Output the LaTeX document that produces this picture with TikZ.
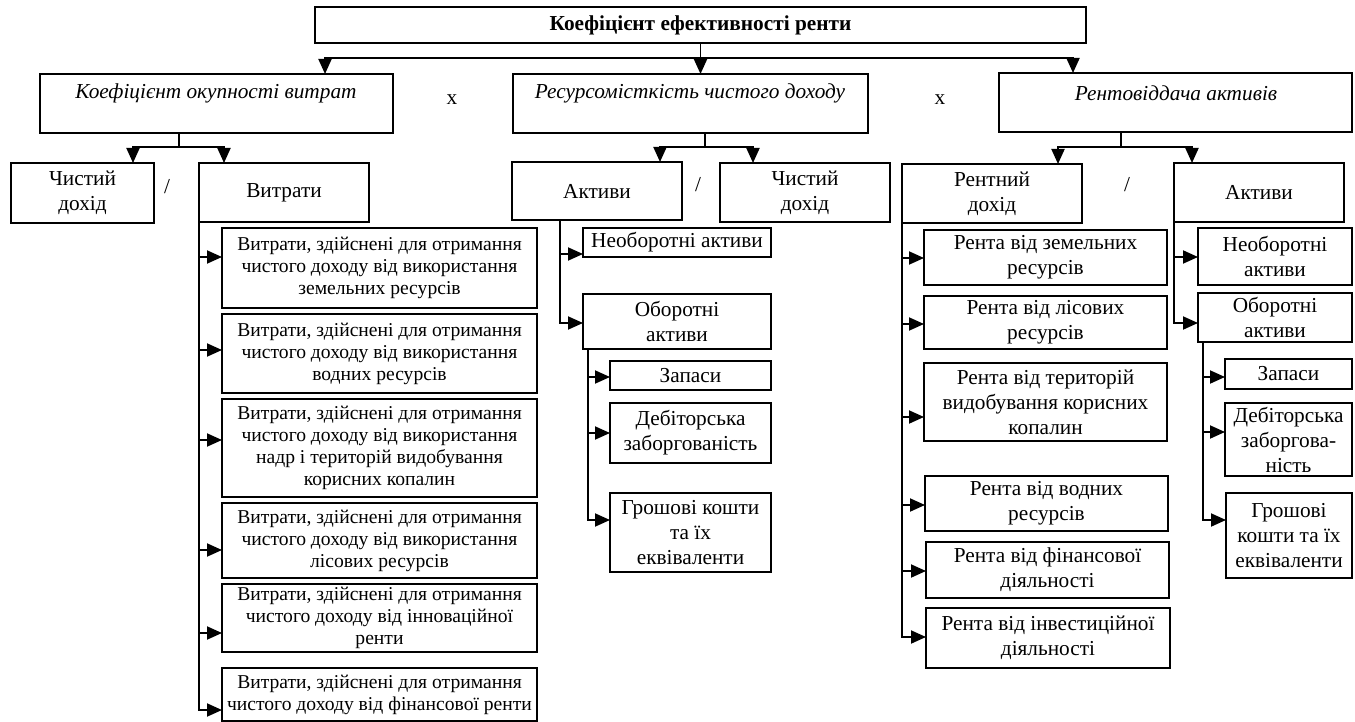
\documentclass[tikz,border=0pt]{standalone}
\usepackage{fontspec}
\setmainfont{Liberation Serif}
\usetikzlibrary{arrows.meta}
\newcommand\fs{\fontsize{21.3}{25}\selectfont}
\newcommand\fsl{\fontsize{19.6}{22}\selectfont}
\tikzset{
  box/.style={draw, line width=1.9pt, inner sep=0pt, outer sep=0pt, align=center, font=\fs},
  lbox/.style={box, font=\fsl},
  ln/.style={line width=1.9pt, line cap=rect},
  arr/.style={line width=1.9pt, -{Triangle[length=15pt,width=13pt]}},
  lbl/.style={font=\fs, inner sep=0pt},
}
\newcommand\bx[7][]{\node[box,minimum width={(#5-#3)*1pt},minimum height={(#6-#4)*1pt},#1] (#2) at ({(#3+#5)/2},{(#4+#6)/2}) {#7};}
\begin{document}
\begin{tikzpicture}[x=1pt,y=-1pt]
\useasboundingbox (0,0) rectangle (1355,722);
% title
\bx{T}{315}{7}{1086}{43}{\textbf{Коефіцієнт ефективності ренти}}
% level 2
\bx{k1}{40}{74}{393}{133}{}
\node[lbl] (k1t) at (216,93) {\textit{Коефіцієнт окупності витрат}};
\node[lbl] (x1) at (452,100) {x};
\bx{k2}{513}{74}{868}{133}{}
\node[lbl] (k2t) at (690,93) {\textit{Ресурсомісткість чистого доходу}};
\node[lbl] (x2) at (940,100) {x};
\bx{k3}{999}{73}{1352}{132}{}
\node[lbl] (k3t) at (1176,93) {\textit{Рентовіддача активів}};
% title connectors
\coordinate (tl) at (325,58);
\coordinate (tr) at (1073,58);
\draw[ln] (tl) -- (tr);
\draw[arr] (T.south) -- (T.south |- k2.north);
\draw[arr] (tl) -- (tl |- k1.north);
\draw[arr] (tr) -- (tr |- k3.north);
% level 3 left
\bx{c1}{11}{163}{154}{223}{Чистий\\дохід}
\node[lbl] (s1) at (167,187) {/};
\bx{v}{199}{163}{369}{222}{Витрати}
\coordinate (j1) at (179,147);
\coordinate (j1l) at (133,147);
\coordinate (j1r) at (224,147);
\draw[ln] (j1 |- k1.south) -- (j1);
\draw[ln] (j1l) -- (j1r);
\draw[arr] (j1l) -- (j1l |- c1.north);
\draw[arr] (j1r) -- (j1r |- v.north);
% left sub-boxes
\bx[lbox]{e1}{222}{228}{537}{308}{Витрати, здійснені для отримання\\чистого доходу від використання\\земельних ресурсів}
\bx[lbox]{e2}{222}{314}{537}{393}{Витрати, здійснені для отримання\\чистого доходу від використання\\водних ресурсів}
\bx[lbox]{e3}{222}{399}{537}{497}{Витрати, здійснені для отримання\\чистого доходу від використання\\надр і територій видобування\\корисних копалин}
\bx[lbox]{e4}{222}{503}{537}{578}{Витрати, здійснені для отримання\\чистого доходу від використання\\лісових ресурсів}
\bx[lbox]{e5}{222}{584}{537}{652}{Витрати, здійснені для отримання\\чистого доходу від інноваційної\\ренти}
\bx[lbox]{e6}{222}{668}{537}{721}{Витрати, здійснені для отримання\\чистого доходу від фінансової ренти}
\draw[ln] (v.south west) -- (v.south west |- 0,710);
\draw[arr] (v.south west |- 0,257) -- (e1.west |- 0,257);
\draw[arr] (v.south west |- 0,350) -- (e2.west |- 0,350);
\draw[arr] (v.south west |- 0,440) -- (e3.west |- 0,440);
\draw[arr] (v.south west |- 0,550) -- (e4.west |- 0,550);
\draw[arr] (v.south west |- 0,633) -- (e5.west |- 0,633);
\draw[arr] (v.south west |- 0,710) -- (e6.west |- 0,710);
% level 3 middle
\bx{a1}{512}{162}{682}{220}{Активи}
\node[lbl] (s2) at (698,185) {/};
\bx{d1}{720}{163}{890}{222}{Чистий\\дохід}
\coordinate (j2) at (705,147);
\coordinate (j2l) at (660,147);
\coordinate (j2r) at (753,147);
\draw[ln] (j2 |- k2.south) -- (j2);
\draw[ln] (j2l) -- (j2r);
\draw[arr] (j2l) -- (j2l |- a1.north);
\draw[arr] (j2r) -- (j2r |- d1.north);
% middle sub-boxes
\bx{n1}{583}{228}{771}{257}{Необоротні активи}
\bx{o1}{583}{294}{771}{349}{Оборотні\\активи}
\coordinate (m1) at (560,220);
\draw[ln] (m1) -- (560,323);
\draw[arr] (m1 |- 0,254) -- (n1.west |- 0,254);
\draw[arr] (m1 |- 0,323) -- (o1.west |- 0,323);
\bx{z1}{610}{361}{771}{390}{Запаси}
\bx{db1}{610}{403}{771}{463}{Дебіторська\\заборгованість}
\bx{g1}{610}{493}{771}{572}{Грошові кошти\\та їх\\еквіваленти}
\coordinate (m2) at (588,349);
\draw[ln] (m2) -- (m2 |- 0,520);
\draw[arr] (m2 |- 0,377) -- (z1.west |- 0,377);
\draw[arr] (m2 |- 0,433) -- (db1.west |- 0,433);
\draw[arr] (m2 |- 0,520) -- (g1.west |- 0,520);
% level 3 right
\bx{r0}{902}{164}{1082}{223}{Рентний\\дохід}
\node[lbl] (s3) at (1127,185) {/};
\bx{a2}{1174}{163}{1344}{222}{Активи}
\coordinate (j3) at (1121,147);
\coordinate (j3l) at (1058,147);
\coordinate (j3r) at (1192,147);
\draw[ln] (j3 |- k3.south) -- (j3);
\draw[ln] (j3l) -- (j3r);
\draw[arr] (j3l) -- (j3l |- r0.north);
\draw[arr] (j3r) -- (j3r |- a2.north);
% rent boxes
\bx{rr1}{924}{230}{1167}{285}{Рента від земельних\\ресурсів}
\bx{rr2}{924}{296}{1167}{349}{Рента від лісових\\ресурсів}
\bx{rr3}{924}{363}{1167}{441}{Рента від територій\\видобування корисних\\копалин}
\bx{rr4}{925}{476}{1168}{531}{Рента від водних\\ресурсів}
\bx{rr5}{926}{542}{1169}{598}{Рента від фінансової\\діяльності}
\bx{rr6}{926}{608}{1170}{668}{Рента від інвестиційної\\діяльності}
\draw[ln] (r0.south west) -- (r0.south west |- 0,637);
\draw[arr] (r0.south west |- 0,258) -- (rr1.west |- 0,258);
\draw[arr] (r0.south west |- 0,324) -- (rr2.west |- 0,324);
\draw[arr] (r0.south west |- 0,417) -- (rr3.west |- 0,417);
\draw[arr] (r0.south west |- 0,505) -- (rr4.west |- 0,505);
\draw[arr] (r0.south west |- 0,571) -- (rr5.west |- 0,571);
\draw[arr] (r0.south west |- 0,637) -- (rr6.west |- 0,637);
% right assets
\bx{n2}{1198}{228}{1352}{285}{Необоротні\\активи}
\bx{o2}{1198}{293}{1352}{342}{Оборотні\\активи}
\draw[ln] (a2.south west) -- (a2.south west |- 0,323);
\draw[arr] (a2.south west |- 0,257) -- (n2.west |- 0,257);
\draw[arr] (a2.south west |- 0,323) -- (o2.west |- 0,323);
\bx{z2}{1225}{359}{1352}{389}{Запаси}
\bx{db2}{1225}{403}{1352}{476}{Дебіторська\\заборгова-\\ність}
\bx{g2}{1226}{493}{1352}{578}{Грошові\\кошти та їх\\еквіваленти}
\coordinate (m3) at (1203,342);
\draw[ln] (m3) -- (m3 |- 0,520);
\draw[arr] (m3 |- 0,377) -- (z2.west |- 0,377);
\draw[arr] (m3 |- 0,432) -- (db2.west |- 0,432);
\draw[arr] (m3 |- 0,520) -- (g2.west |- 0,520);
\end{tikzpicture}
\end{document}
